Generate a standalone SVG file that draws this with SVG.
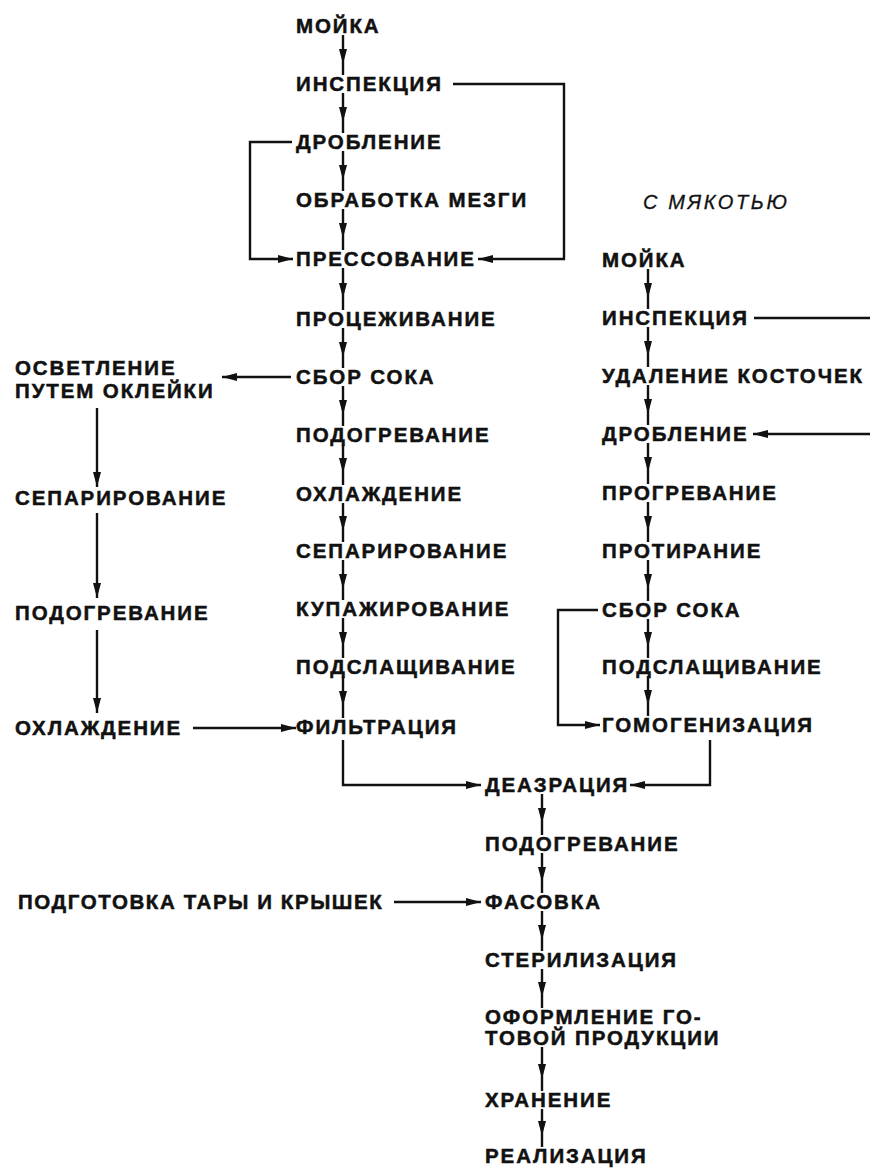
<svg xmlns="http://www.w3.org/2000/svg" width="870" height="1169" viewBox="0 0 870 1169">
<style>
.t{font-family:"Liberation Sans",Arial,sans-serif;font-weight:bold;font-size:20.5px;letter-spacing:1.9px;fill:#111;stroke:#111;stroke-width:0.5px}
.i{font-family:"Liberation Sans",Arial,sans-serif;font-style:italic;font-size:20px;letter-spacing:2.6px;fill:#111;stroke:#111;stroke-width:0.3px}
.c path{fill:none;stroke:#111;stroke-width:2.4}
</style>
<defs>
<marker id="a" viewBox="0 0 15 8" refX="15" refY="4" markerWidth="15" markerHeight="8" markerUnits="userSpaceOnUse" orient="auto"><path d="M0,0 L15,4 L0,8 z" fill="#111"/></marker>
</defs>
<rect width="870" height="1169" fill="#fff"/>
<g class="c" id="connectors">
<path marker-mid="url(#a)" d="M343 35 V64 V75"/>
<path marker-mid="url(#a)" d="M343 93 V122 V133"/>
<path marker-mid="url(#a)" d="M343 151 V180 V191"/>
<path marker-mid="url(#a)" d="M343 209 V238 V250"/>
<path marker-mid="url(#a)" d="M343 268 V298 V310"/>
<path marker-mid="url(#a)" d="M343 328 V357 V368"/>
<path marker-mid="url(#a)" d="M343 386 V415 V426"/>
<path marker-mid="url(#a)" d="M343 444 V473 V485"/>
<path marker-mid="url(#a)" d="M343 503 V531 V542"/>
<path marker-mid="url(#a)" d="M343 560 V589 V600"/>
<path marker-mid="url(#a)" d="M343 618 V647 V658"/>
<path marker-mid="url(#a)" d="M343 676 V706 V718"/>
<path marker-mid="url(#a)" d="M648 269 V298 V309"/>
<path marker-mid="url(#a)" d="M648 327 V356 V367"/>
<path marker-mid="url(#a)" d="M648 385 V414 V425"/>
<path marker-mid="url(#a)" d="M648 443 V472 V484"/>
<path marker-mid="url(#a)" d="M648 502 V531 V542"/>
<path marker-mid="url(#a)" d="M648 560 V589 V601"/>
<path marker-mid="url(#a)" d="M648 619 V647 V658"/>
<path marker-mid="url(#a)" d="M648 676 V705 V716"/>
<path marker-mid="url(#a)" d="M542 794 V823 V835"/>
<path marker-mid="url(#a)" d="M542 853 V882 V893"/>
<path marker-mid="url(#a)" d="M542 911 V940 V951"/>
<path marker-mid="url(#a)" d="M542 969 V997 V1008"/>
<path marker-mid="url(#a)" d="M542 1047 V1079 V1091"/>
<path marker-mid="url(#a)" d="M542 1109 V1136 V1147"/>
<path marker-end="url(#a)" d="M97 408 V487"/>
<path marker-end="url(#a)" d="M97 513 V598"/>
<path marker-end="url(#a)" d="M97 630 V713"/>
<path marker-end="url(#a)" d="M453 84 H564 V259 H478"/>
<path marker-end="url(#a)" d="M292 142 H250 V259 H293"/>
<path marker-end="url(#a)" d="M291 377 H222"/>
<path marker-end="url(#a)" d="M193 728 H296"/>
<path marker-end="url(#a)" d="M343 740 V785 H481"/>
<path marker-end="url(#a)" d="M710 740 V785 H630"/>
<path d="M754 318 H870"/>
<path marker-end="url(#a)" d="M870 434 H753"/>
<path marker-end="url(#a)" d="M598 610 H558 V725 H600"/>
<path marker-end="url(#a)" d="M394 902 H481"/>
</g>
<g id="n-moika1"><text class="t" x="296" y="33">МОЙКА</text></g>
<g id="n-insp1"><text class="t" x="296" y="91">ИНСПЕКЦИЯ</text></g>
<g id="n-drob1"><text class="t" x="296" y="149">ДРОБЛЕНИЕ</text></g>
<g id="n-mezga"><text class="t" x="296" y="207">ОБРАБОТКА МЕЗГИ</text></g>
<g id="n-press"><text class="t" x="296" y="266">ПРЕССОВАНИЕ</text></g>
<g id="n-proc"><text class="t" x="296" y="326">ПРОЦЕЖИВАНИЕ</text></g>
<g id="n-sbor1"><text class="t" x="296" y="384">СБОР СОКА</text></g>
<g id="n-podogr1"><text class="t" x="296" y="442">ПОДОГРЕВАНИЕ</text></g>
<g id="n-ohl1"><text class="t" x="296" y="501">ОХЛАЖДЕНИЕ</text></g>
<g id="n-sep1"><text class="t" x="296" y="558">СЕПАРИРОВАНИЕ</text></g>
<g id="n-kup"><text class="t" x="296" y="616">КУПАЖИРОВАНИЕ</text></g>
<g id="n-podsl1"><text class="t" x="296" y="674">ПОДСЛАЩИВАНИЕ</text></g>
<g id="n-filtr"><text class="t" x="296" y="734">ФИЛЬТРАЦИЯ</text></g>
<g id="n-osv"><text class="t" x="15" y="375">ОСВЕТЛЕНИЕ</text><text class="t" x="15" y="398">ПУТЕМ ОКЛЕЙКИ</text></g>
<g id="n-sep2"><text class="t" x="15" y="505">СЕПАРИРОВАНИЕ</text></g>
<g id="n-podogr2"><text class="t" x="15" y="620">ПОДОГРЕВАНИЕ</text></g>
<g id="n-ohl2"><text class="t" x="15" y="735">ОХЛАЖДЕНИЕ</text></g>
<g id="n-title"><text class="i" x="643" y="209">С МЯКОТЬЮ</text></g>
<g id="n-moika2"><text class="t" x="602" y="267">МОЙКА</text></g>
<g id="n-insp2"><text class="t" x="602" y="325">ИНСПЕКЦИЯ</text></g>
<g id="n-kost"><text class="t" x="602" y="383">УДАЛЕНИЕ КОСТОЧЕК</text></g>
<g id="n-drob2"><text class="t" x="602" y="441">ДРОБЛЕНИЕ</text></g>
<g id="n-progr"><text class="t" x="602" y="500">ПРОГРЕВАНИЕ</text></g>
<g id="n-protir"><text class="t" x="602" y="558">ПРОТИРАНИЕ</text></g>
<g id="n-sbor2"><text class="t" x="602" y="617">СБОР СОКА</text></g>
<g id="n-podsl2"><text class="t" x="602" y="674">ПОДСЛАЩИВАНИЕ</text></g>
<g id="n-gomog"><text class="t" x="602" y="732">ГОМОГЕНИЗАЦИЯ</text></g>
<g id="n-deaer"><text class="t" x="485" y="792">ДЕАЗРАЦИЯ</text></g>
<g id="n-podogr3"><text class="t" x="485" y="851">ПОДОГРЕВАНИЕ</text></g>
<g id="n-tara"><text class="t" x="18" y="909" style="letter-spacing:1.6px">ПОДГОТОВКА ТАРЫ И КРЫШЕК</text></g>
<g id="n-fas"><text class="t" x="485" y="909">ФАСОВКА</text></g>
<g id="n-ster"><text class="t" x="485" y="967">СТЕРИЛИЗАЦИЯ</text></g>
<g id="n-oform"><text class="t" x="485" y="1024">ОФОРМЛЕНИЕ ГО-</text><text class="t" x="485" y="1045">ТОВОЙ ПРОДУКЦИИ</text></g>
<g id="n-hran"><text class="t" x="485" y="1107">ХРАНЕНИЕ</text></g>
<g id="n-real"><text class="t" x="485" y="1163">РЕАЛИЗАЦИЯ</text></g>
</svg>
